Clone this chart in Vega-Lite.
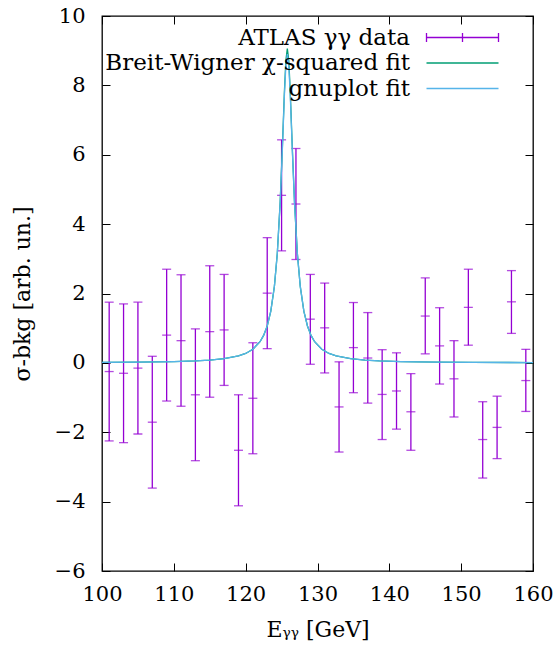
{
  "$schema": "https://vega.github.io/schema/vega-lite/v6.json",
  "width": 431,
  "height": 555,
  "autosize": {"type": "none"},
  "padding": {"left": 102, "top": 16, "right": 20, "bottom": 84},
  "background": "white",
  "datasets": {
    "bars": [
      {"x": 101, "y": -0.25, "ylow": -2.25, "yhigh": 1.75, "series": "ATLAS γγ data"},
      {"x": 103, "y": -0.30, "ylow": -2.30, "yhigh": 1.70, "series": "ATLAS γγ data"},
      {"x": 105, "y": -0.15, "ylow": -2.05, "yhigh": 1.75, "series": "ATLAS γγ data"},
      {"x": 107, "y": -1.71, "ylow": -3.61, "yhigh": 0.19, "series": "ATLAS γγ data"},
      {"x": 109, "y": 0.80, "ylow": -1.10, "yhigh": 2.70, "series": "ATLAS γγ data"},
      {"x": 111, "y": 0.64, "ylow": -1.25, "yhigh": 2.54, "series": "ATLAS γγ data"},
      {"x": 113, "y": -0.92, "ylow": -2.82, "yhigh": 0.98, "series": "ATLAS γγ data"},
      {"x": 115, "y": 0.90, "ylow": -0.99, "yhigh": 2.80, "series": "ATLAS γγ data"},
      {"x": 117, "y": 0.95, "ylow": -0.65, "yhigh": 2.55, "series": "ATLAS γγ data"},
      {"x": 119, "y": -2.52, "ylow": -4.12, "yhigh": -0.92, "series": "ATLAS γγ data"},
      {"x": 121, "y": -1.02, "ylow": -2.62, "yhigh": 0.58, "series": "ATLAS γγ data"},
      {"x": 123, "y": 2.01, "ylow": 0.41, "yhigh": 3.61, "series": "ATLAS γγ data"},
      {"x": 125, "y": 4.83, "ylow": 3.23, "yhigh": 6.43, "series": "ATLAS γγ data"},
      {"x": 127, "y": 4.58, "ylow": 2.98, "yhigh": 6.18, "series": "ATLAS γγ data"},
      {"x": 129, "y": 1.26, "ylow": -0.04, "yhigh": 2.55, "series": "ATLAS γγ data"},
      {"x": 131, "y": 1.01, "ylow": -0.29, "yhigh": 2.30, "series": "ATLAS γγ data"},
      {"x": 133, "y": -1.27, "ylow": -2.57, "yhigh": 0.03, "series": "ATLAS γγ data"},
      {"x": 135, "y": 0.44, "ylow": -0.86, "yhigh": 1.74, "series": "ATLAS γγ data"},
      {"x": 137, "y": 0.14, "ylow": -1.16, "yhigh": 1.45, "series": "ATLAS γγ data"},
      {"x": 139, "y": -0.91, "ylow": -2.21, "yhigh": 0.38, "series": "ATLAS γγ data"},
      {"x": 141, "y": -0.81, "ylow": -1.91, "yhigh": 0.29, "series": "ATLAS γγ data"},
      {"x": 143, "y": -1.41, "ylow": -2.52, "yhigh": -0.31, "series": "ATLAS γγ data"},
      {"x": 145, "y": 1.35, "ylow": 0.26, "yhigh": 2.45, "series": "ATLAS γγ data"},
      {"x": 147, "y": 0.49, "ylow": -0.61, "yhigh": 1.59, "series": "ATLAS γγ data"},
      {"x": 149, "y": -0.46, "ylow": -1.56, "yhigh": 0.64, "series": "ATLAS γγ data"},
      {"x": 151, "y": 1.60, "ylow": 0.51, "yhigh": 2.70, "series": "ATLAS γγ data"},
      {"x": 153, "y": -2.21, "ylow": -3.32, "yhigh": -1.12, "series": "ATLAS γγ data"},
      {"x": 155, "y": -1.86, "ylow": -2.76, "yhigh": -0.96, "series": "ATLAS γγ data"},
      {"x": 157, "y": 1.76, "ylow": 0.85, "yhigh": 2.66, "series": "ATLAS γγ data"},
      {"x": 159, "y": -0.51, "ylow": -1.40, "yhigh": 0.39, "series": "ATLAS γγ data"}
    ],
    "fits": [
      {"x": 100, "y": 0.014, "series": "Breit-Wigner χ-squared fit"},
      {"x": 105, "y": 0.022, "series": "Breit-Wigner χ-squared fit"},
      {"x": 110, "y": 0.038, "series": "Breit-Wigner χ-squared fit"},
      {"x": 113, "y": 0.057, "series": "Breit-Wigner χ-squared fit"},
      {"x": 115, "y": 0.080, "series": "Breit-Wigner χ-squared fit"},
      {"x": 117, "y": 0.120, "series": "Breit-Wigner χ-squared fit"},
      {"x": 119, "y": 0.200, "series": "Breit-Wigner χ-squared fit"},
      {"x": 120, "y": 0.272, "series": "Breit-Wigner χ-squared fit"},
      {"x": 121, "y": 0.392, "series": "Breit-Wigner χ-squared fit"},
      {"x": 122, "y": 0.610, "series": "Breit-Wigner χ-squared fit"},
      {"x": 122.5, "y": 0.791, "series": "Breit-Wigner χ-squared fit"},
      {"x": 123, "y": 1.063, "series": "Breit-Wigner χ-squared fit"},
      {"x": 123.5, "y": 1.491, "series": "Breit-Wigner χ-squared fit"},
      {"x": 124, "y": 2.206, "series": "Breit-Wigner χ-squared fit"},
      {"x": 124.4, "y": 3.145, "series": "Breit-Wigner χ-squared fit"},
      {"x": 124.8, "y": 4.623, "series": "Breit-Wigner χ-squared fit"},
      {"x": 125.1, "y": 6.162, "series": "Breit-Wigner χ-squared fit"},
      {"x": 125.4, "y": 7.854, "series": "Breit-Wigner χ-squared fit"},
      {"x": 125.6, "y": 8.725, "series": "Breit-Wigner χ-squared fit"},
      {"x": 125.8, "y": 9.060, "series": "Breit-Wigner χ-squared fit"},
      {"x": 126.0, "y": 8.725, "series": "Breit-Wigner χ-squared fit"},
      {"x": 126.2, "y": 7.854, "series": "Breit-Wigner χ-squared fit"},
      {"x": 126.5, "y": 6.162, "series": "Breit-Wigner χ-squared fit"},
      {"x": 126.8, "y": 4.623, "series": "Breit-Wigner χ-squared fit"},
      {"x": 127.2, "y": 3.145, "series": "Breit-Wigner χ-squared fit"},
      {"x": 127.6, "y": 2.206, "series": "Breit-Wigner χ-squared fit"},
      {"x": 128.1, "y": 1.491, "series": "Breit-Wigner χ-squared fit"},
      {"x": 128.6, "y": 1.063, "series": "Breit-Wigner χ-squared fit"},
      {"x": 129.1, "y": 0.791, "series": "Breit-Wigner χ-squared fit"},
      {"x": 129.6, "y": 0.610, "series": "Breit-Wigner χ-squared fit"},
      {"x": 130.6, "y": 0.392, "series": "Breit-Wigner χ-squared fit"},
      {"x": 131.6, "y": 0.272, "series": "Breit-Wigner χ-squared fit"},
      {"x": 132.6, "y": 0.200, "series": "Breit-Wigner χ-squared fit"},
      {"x": 134.6, "y": 0.120, "series": "Breit-Wigner χ-squared fit"},
      {"x": 136.6, "y": 0.080, "series": "Breit-Wigner χ-squared fit"},
      {"x": 138.6, "y": 0.057, "series": "Breit-Wigner χ-squared fit"},
      {"x": 141.6, "y": 0.038, "series": "Breit-Wigner χ-squared fit"},
      {"x": 146.6, "y": 0.022, "series": "Breit-Wigner χ-squared fit"},
      {"x": 151.6, "y": 0.014, "series": "Breit-Wigner χ-squared fit"},
      {"x": 160, "y": 0.008, "series": "Breit-Wigner χ-squared fit"},
      {"x": 100, "y": 0.014, "series": "gnuplot fit"},
      {"x": 105, "y": 0.022, "series": "gnuplot fit"},
      {"x": 110, "y": 0.038, "series": "gnuplot fit"},
      {"x": 113, "y": 0.057, "series": "gnuplot fit"},
      {"x": 115, "y": 0.080, "series": "gnuplot fit"},
      {"x": 117, "y": 0.120, "series": "gnuplot fit"},
      {"x": 119, "y": 0.200, "series": "gnuplot fit"},
      {"x": 120, "y": 0.272, "series": "gnuplot fit"},
      {"x": 121, "y": 0.392, "series": "gnuplot fit"},
      {"x": 122, "y": 0.610, "series": "gnuplot fit"},
      {"x": 122.5, "y": 0.791, "series": "gnuplot fit"},
      {"x": 123, "y": 1.063, "series": "gnuplot fit"},
      {"x": 123.5, "y": 1.491, "series": "gnuplot fit"},
      {"x": 124, "y": 2.206, "series": "gnuplot fit"},
      {"x": 124.4, "y": 3.140, "series": "gnuplot fit"},
      {"x": 124.8, "y": 4.600, "series": "gnuplot fit"},
      {"x": 125.1, "y": 6.100, "series": "gnuplot fit"},
      {"x": 125.4, "y": 7.750, "series": "gnuplot fit"},
      {"x": 125.6, "y": 8.580, "series": "gnuplot fit"},
      {"x": 125.8, "y": 8.900, "series": "gnuplot fit"},
      {"x": 126.0, "y": 8.580, "series": "gnuplot fit"},
      {"x": 126.2, "y": 7.750, "series": "gnuplot fit"},
      {"x": 126.5, "y": 6.100, "series": "gnuplot fit"},
      {"x": 126.8, "y": 4.600, "series": "gnuplot fit"},
      {"x": 127.2, "y": 3.140, "series": "gnuplot fit"},
      {"x": 127.6, "y": 2.206, "series": "gnuplot fit"},
      {"x": 128.1, "y": 1.491, "series": "gnuplot fit"},
      {"x": 128.6, "y": 1.063, "series": "gnuplot fit"},
      {"x": 129.1, "y": 0.791, "series": "gnuplot fit"},
      {"x": 129.6, "y": 0.610, "series": "gnuplot fit"},
      {"x": 130.6, "y": 0.392, "series": "gnuplot fit"},
      {"x": 131.6, "y": 0.272, "series": "gnuplot fit"},
      {"x": 132.6, "y": 0.200, "series": "gnuplot fit"},
      {"x": 134.6, "y": 0.120, "series": "gnuplot fit"},
      {"x": 136.6, "y": 0.080, "series": "gnuplot fit"},
      {"x": 138.6, "y": 0.057, "series": "gnuplot fit"},
      {"x": 141.6, "y": 0.038, "series": "gnuplot fit"},
      {"x": 146.6, "y": 0.022, "series": "gnuplot fit"},
      {"x": 151.6, "y": 0.014, "series": "gnuplot fit"},
      {"x": 160, "y": 0.008, "series": "gnuplot fit"}
    ]
  },
  "resolve": {"axis": {"x": "independent", "y": "independent"}},
  "layer": [
    {
      "data": {"name": "bars"},
      "mark": {"type": "rule", "strokeWidth": 1.3},
      "encoding": {
        "x": {"field": "x", "type": "quantitative",
              "scale": {"domain": [100, 160], "nice": false, "zero": false},
              "axis": {"orient": "bottom", "values": [100, 110, 120, 130, 140, 150, 160], "title": "Eᵧᵧ [GeV]", "labelPadding": 20, "titlePadding": 15}},
        "y": {"field": "ylow", "type": "quantitative",
              "scale": {"domain": [-6, 10], "nice": false, "zero": false},
              "axis": {"orient": "left", "values": [-6, -4, -2, 0, 2, 4, 6, 8, 10], "title": "σ-bkg [arb. un.]", "labelPadding": 25, "titlePadding": 20}},
        "y2": {"field": "yhigh"},
        "color": {"field": "series", "type": "nominal",
                  "scale": {"domain": ["ATLAS γγ data", "Breit-Wigner χ-squared fit", "gnuplot fit"], "range": ["#9400d3", "#009e73", "#56b4e9"]},
                  "legend": {
                    "orient": "none", "legendX": 349, "legendY": 10, "padding": 0,
                    "title": null, "symbolSize": 144, "symbolStrokeWidth": 1.3,
                    "labelAlign": "right", "labelOffset": -64, "labelFont": "DejaVu Serif",
                    "labelFontSize": 23, "labelColor": "#000", "labelLimit": 0, "rowPadding": 1.5,
                    "encode": {"symbols": {"update": {
                      "shape": {"signal": "datum.value === 'ATLAS γγ data' ? 'M-6,-0.75L-6,0.75M-6,0L6,0M6,-0.75L6,0.75M0,-0.75L0,0.75' : 'M-6,0L6,0'"},
                      "fill": {"value": "transparent"}}}}
                  }}
      }
    },
    {
      "data": {"name": "bars"},
      "transform": [{"fold": ["ylow", "y", "yhigh"], "as": ["part", "val"]}],
      "mark": {"type": "tick", "orient": "horizontal", "size": 9, "thickness": 1.3},
      "encoding": {
        "x": {"field": "x", "type": "quantitative", "axis": null},
        "y": {"field": "val", "type": "quantitative", "axis": null},
        "color": {"field": "series", "type": "nominal"}
      }
    },
    {
      "data": {"name": "fits"},
      "mark": {"type": "line", "strokeWidth": 1.3, "clip": true},
      "encoding": {
        "x": {"field": "x", "type": "quantitative",
              "axis": {"orient": "top", "values": [100, 110, 120, 130, 140, 150, 160], "labels": false, "title": null}},
        "y": {"field": "y", "type": "quantitative",
              "axis": {"orient": "right", "values": [-6, -4, -2, 0, 2, 4, 6, 8, 10], "labels": false, "title": null}},
        "color": {"field": "series", "type": "nominal"}
      }
    }
  ],
  "config": {
    "view": {"stroke": "#000", "strokeWidth": 1.3},
    "axis": {
      "domain": false, "grid": false, "tickSize": -8, "tickColor": "#000", "tickWidth": 1,
      "labelFont": "DejaVu Serif", "labelFontSize": 21, "labelColor": "#000",
      "titleFont": "DejaVu Serif", "titleFontSize": 22, "titleFontWeight": "normal", "titleColor": "#000",
      "labelFlush": false, "labelOverlap": false, "format": "d"
    }
  }
}
